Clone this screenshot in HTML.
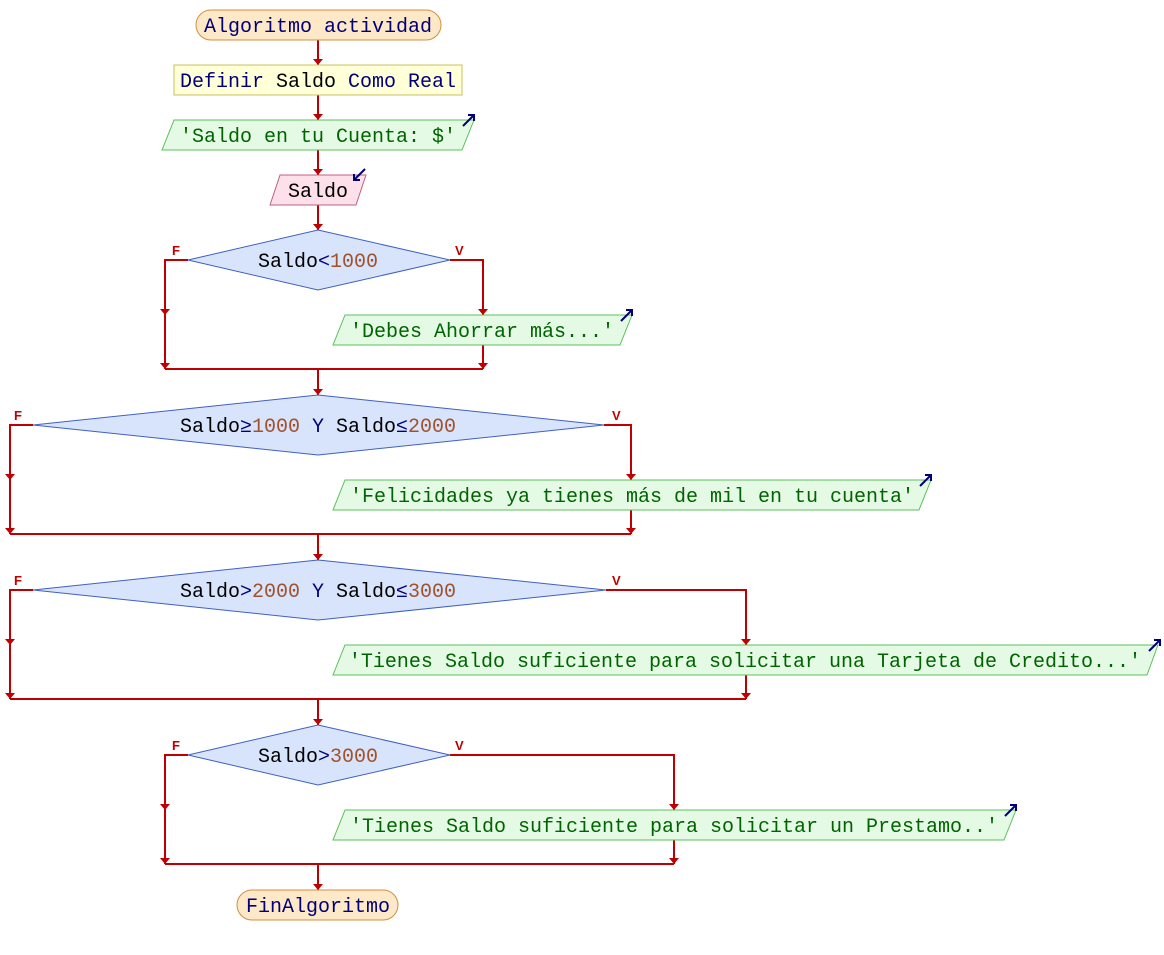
<!DOCTYPE html>
<html><head><meta charset="utf-8"><style>
html,body{margin:0;padding:0;background:#fff;}
svg{display:block;}
text{font-family:"Liberation Mono",monospace;font-size:20px;}
.k{fill:#00007a}.i{fill:#000}.n{fill:#a0522d}.s{fill:#006400}
.ln{stroke:#c00000;stroke-width:2;fill:none}
.ah{fill:#c00000}
.lb{font-family:"Liberation Sans",sans-serif;font-size:13px;font-weight:bold;fill:#c00000}
.out{fill:#e4fae4;stroke:#5cc05c;stroke-width:1}
.dia{fill:#d8e4fb;stroke:#4060c0;stroke-width:1}
.ic{stroke:#00007a;stroke-width:2;fill:none}
</style></head><body>
<svg width="1164" height="955" viewBox="0 0 1164 955" xmlns="http://www.w3.org/2000/svg">
<defs>
<path id="a" d="M-5,-6 L5,-6 L0,0 Z"/>
</defs>
<!-- main vertical lines -->
<path class="ln" d="M318,40 V65 M318,95 V120 M318,150 V175 M318,205 V230"/>
<use href="#a" class="ah" x="318" y="65"/><use href="#a" class="ah" x="318" y="120"/><use href="#a" class="ah" x="318" y="175"/><use href="#a" class="ah" x="318" y="230"/>

<!-- start -->
<rect x="196" y="10" width="245" height="30" rx="15" fill="#fde8c8" stroke="#d09040"/>
<text x="318" y="32" text-anchor="middle" class="k">Algoritmo actividad</text>
<rect x="174" y="65" width="288" height="30" fill="#ffffd8" stroke="#c8c060"/>
<text x="318" y="87" text-anchor="middle"><tspan class="k">Definir </tspan><tspan class="i">Saldo</tspan><tspan class="k"> Como Real</tspan></text>
<polygon class="out" points="174,120 474,120 462,150 162,150"/>
<text x="318" y="142" text-anchor="middle" class="s">'Saldo en tu Cuenta: $'</text>
<path class="ic" d="M463,126 L474,115 M468,115 H474 V121"/>
<polygon points="280,175 366,175 356,205 270,205" fill="#fde0ea" stroke="#c06080"/>
<text x="318" y="197" text-anchor="middle" class="i">Saldo</text>
<path class="ic" d="M365,169 L354,180 M354,174 V180 H360"/>

<!-- decision 1 -->
<path class="ln" d="M188,260 H165 V369 M450,260 H483 V315 M483,345 V369 M165,369 H483 M318,369 V395"/>
<use href="#a" class="ah" x="165" y="315"/><use href="#a" class="ah" x="165" y="369"/><use href="#a" class="ah" x="483" y="315"/><use href="#a" class="ah" x="483" y="369"/><use href="#a" class="ah" x="318" y="395"/>
<polygon class="dia" points="318,230 450,260 318,290 188,260"/>
<text x="318" y="267" text-anchor="middle"><tspan class="i">Saldo</tspan><tspan class="k">&lt;</tspan><tspan class="n">1000</tspan></text>
<text x="172" y="255" class="lb">F</text><text x="455" y="255" class="lb">V</text>
<polygon class="out" points="345,315 632,315 620,345 333,345"/>
<text x="482" y="337" text-anchor="middle" class="s">'Debes Ahorrar más...'</text>
<path class="ic" d="M621,321 L632,310 M626,310 H632 V316"/>

<!-- decision 2 -->
<path class="ln" d="M33,425 H10 V534 M604,425 H631 V480 M631,510 V534 M10,534 H631 M318,534 V560"/>
<use href="#a" class="ah" x="10" y="480"/><use href="#a" class="ah" x="10" y="534"/><use href="#a" class="ah" x="631" y="480"/><use href="#a" class="ah" x="631" y="534"/><use href="#a" class="ah" x="318" y="560"/>
<polygon class="dia" points="318,395 604,425 318,455 33,425"/>
<text x="318" y="432" text-anchor="middle"><tspan class="i">Saldo</tspan><tspan class="k">≥</tspan><tspan class="n">1000</tspan><tspan class="k"> Y </tspan><tspan class="i">Saldo</tspan><tspan class="k">≤</tspan><tspan class="n">2000</tspan></text>
<text x="14" y="420" class="lb">F</text><text x="612" y="420" class="lb">V</text>
<polygon class="out" points="345,480 931,480 919,510 333,510"/>
<text x="632" y="502" text-anchor="middle" class="s">'Felicidades ya tienes más de mil en tu cuenta'</text>
<path class="ic" d="M920,486 L931,475 M925,475 H931 V481"/>

<!-- decision 3 -->
<path class="ln" d="M33,590 H10 V699 M606,590 H746 V645 M746,675 V699 M10,699 H746 M318,699 V725"/>
<use href="#a" class="ah" x="10" y="645"/><use href="#a" class="ah" x="10" y="699"/><use href="#a" class="ah" x="746" y="645"/><use href="#a" class="ah" x="746" y="699"/><use href="#a" class="ah" x="318" y="725"/>
<polygon class="dia" points="318,560 606,590 318,620 33,590"/>
<text x="318" y="597" text-anchor="middle"><tspan class="i">Saldo</tspan><tspan class="k">&gt;</tspan><tspan class="n">2000</tspan><tspan class="k"> Y </tspan><tspan class="i">Saldo</tspan><tspan class="k">≤</tspan><tspan class="n">3000</tspan></text>
<text x="14" y="585" class="lb">F</text><text x="612" y="585" class="lb">V</text>
<polygon class="out" points="345,645 1158,645 1147,675 333,675"/>
<text x="745" y="667" text-anchor="middle" class="s">'Tienes Saldo suficiente para solicitar una Tarjeta de Credito...'</text>
<path class="ic" d="M1149,651 L1160,640 M1154,640 H1160 V646"/>

<!-- decision 4 -->
<path class="ln" d="M188,755 H165 V864 M450,755 H674 V810 M674,840 V864 M165,864 H674 M318,864 V890"/>
<use href="#a" class="ah" x="165" y="810"/><use href="#a" class="ah" x="165" y="864"/><use href="#a" class="ah" x="674" y="810"/><use href="#a" class="ah" x="674" y="864"/><use href="#a" class="ah" x="318" y="890"/>
<polygon class="dia" points="318,725 450,755 318,785 188,755"/>
<text x="318" y="762" text-anchor="middle"><tspan class="i">Saldo</tspan><tspan class="k">&gt;</tspan><tspan class="n">3000</tspan></text>
<text x="172" y="750" class="lb">F</text><text x="455" y="750" class="lb">V</text>
<polygon class="out" points="345,810 1016,810 1004,840 333,840"/>
<text x="674" y="832" text-anchor="middle" class="s">'Tienes Saldo suficiente para solicitar un Prestamo..'</text>
<path class="ic" d="M1005,816 L1016,805 M1010,805 H1016 V811"/>

<!-- end -->
<rect x="237" y="890" width="161" height="30" rx="15" fill="#fde8c8" stroke="#d09040"/>
<text x="318" y="912" text-anchor="middle" class="k">FinAlgoritmo</text>
</svg>
</body></html>
